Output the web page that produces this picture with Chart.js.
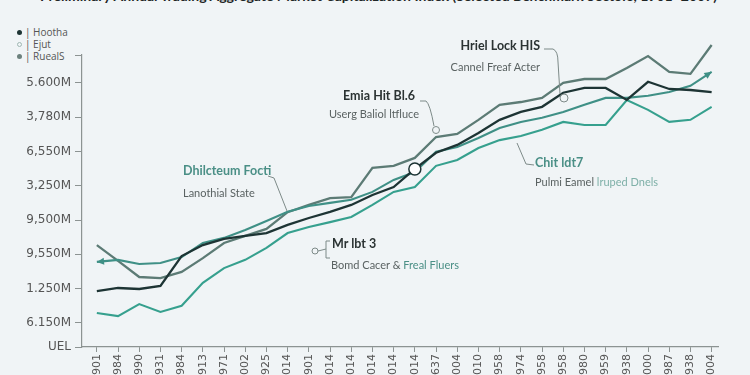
<!DOCTYPE html>
<html lang="en">
<head>
<meta charset="UTF-8">
<title>Market trend lines</title>
<script src="https://cdn.jsdelivr.net/npm/chart.js"></script>
<style>
  html, body { margin: 0; padding: 0; background: #f0f4f6; overflow: hidden; }
  body { width: 750px; height: 375px; position: relative; font-family: 'Lato', sans-serif; }
  #wrap { position: absolute; left: 0; top: 0; width: 750px; height: 400px; }
  .t { position: absolute; white-space: nowrap; line-height: 1; }
  .head { font-weight: bold; font-size: 12.5px; color: #2b3333; }
  .sub { font-size: 11px; color: #5a6262; }
  .teal { color: #4a8f86; }
  #title { position: absolute; left: 40px; width: 620px; top: -13px; text-align: center; font: bold 14px 'Lato', sans-serif; color: #1e2626; white-space: nowrap; }
  .lg { position: absolute; left: 17px; font: 10px 'Open Sans', sans-serif; color: #555; line-height: 1; }
  .lg i { display: inline-block; width: 5px; height: 5px; border-radius: 50%; margin-right: 3px; vertical-align: 1px; }
</style>
</head>
<body>
<div id="title">Preliminary Annual Trading Aggregate Market Capitalization Index (Selected Benchmark Sectors, 1901–2007)</div>

<div class="lg" style="top:27px"><i style="background:#1d3434"></i>| Hootha</div>
<div class="lg" style="top:39px"><i style="background:#f0f4f6;border:1px solid #9fb7b2;width:3px;height:3px"></i>| Ejut</div>
<div class="lg" style="top:51px"><i style="background:#6c817d"></i>| RuealS</div>

<div id="wrap"><canvas id="chart" width="750" height="400"></canvas></div>

<div class="t head" style="right:210px;top:40px">Hriel Lock HIS</div>
<div class="t sub" style="right:210px;top:61px">Cannel Freaf Acter</div>

<div class="t head" style="right:335px;top:90px">Emia Hit Bl.6</div>
<div class="t sub" style="right:331px;top:108px">Userg Baliol ltfluce</div>

<div class="t head teal" style="left:183px;top:165px">Dhilcteum Focti</div>
<div class="t sub" style="left:183px;top:187px">Lanothial State</div>

<div class="t head" style="left:332px;top:238px">Mr lbt 3</div>
<div class="t sub" style="left:331px;top:259px">Bomd Cacer &amp; <span class="teal">Freal Fluers</span></div>

<div class="t head teal" style="left:535px;top:157px">Chit ldt7</div>
<div class="t sub" style="left:535px;top:176px">Pulmi Eamel <span style="color:#7fb0a8">lruped Dnels</span></div>

<script>
  // categories along the bottom axis
  const categories = ['1901','1984','1990','1931','1984','1913','1971','2002','1925','2014',
                      '1901','2014','2014','2014','2014','2014','2637','2004','2010','1958',
                      '1974','1958','1958','1980','1959','1938','2000','1987','1938','2004'];

  // series values
  const hootha = [1.63,1.72,1.69,1.78,2.65,2.97,3.15,3.24,3.32,3.56,3.76,3.94,4.14,4.43,4.66,
                  5.19,5.66,5.89,6.24,6.62,6.85,7.00,7.41,7.55,7.55,7.20,7.73,7.52,7.49,7.43];
  const ejut = [2.48,2.54,2.42,2.45,2.62,3.03,3.18,3.41,3.67,3.94,4.11,4.20,4.29,4.52,4.87,
                5.10,5.69,5.83,6.09,6.38,6.56,6.68,6.85,7.06,7.26,7.26,7.32,7.43,7.61,8.02];
  const rueals = [2.97,2.51,2.04,2.01,2.19,2.59,3.03,3.24,3.44,3.93,4.14,4.34,4.37,5.22,5.28,
                  5.51,6.12,6.21,6.62,7.06,7.14,7.26,7.70,7.81,7.81,8.13,8.48,8.02,7.96,8.80];
  const freal = [0.99,0.90,1.25,1.02,1.20,1.87,2.30,2.54,2.89,3.32,3.50,3.64,3.79,4.14,4.52,
                 4.66,5.28,5.45,5.80,6.03,6.15,6.33,6.56,6.47,6.47,7.20,6.91,6.56,6.62,7.00];

  // y axis tick positions and their printed labels
  const yTickValues = [0, 0.7, 1.7, 2.7, 3.7, 4.7, 5.7, 6.7, 7.7, 8.51];
  const yTickLabels = ['UEL','6.150M','1.250M','9,550M','9,500M','3,250M','6,550M','3,780M','5.600M',''];

  const toPoints = arr => arr.map((v, i) => ({ x: i, y: v }));

  // leader lines, arrowheads on the Ejut line
  const decorations = {
    id: 'decorations',
    afterDatasetsDraw(chart) {
      const ctx = chart.ctx;
      ctx.save();
      ctx.strokeStyle = '#7d8a88';
      ctx.lineWidth = 1;
      ctx.beginPath();
      ctx.moveTo(544, 49); ctx.lineTo(553, 49); ctx.quadraticCurveTo(558, 51, 558, 62); ctx.lineTo(560, 94);
      ctx.moveTo(420, 101); ctx.lineTo(426, 101); ctx.quadraticCurveTo(430, 104, 434, 126);
      ctx.moveTo(268, 176); ctx.lineTo(274, 178); ctx.lineTo(287, 211);
      ctx.moveTo(330, 241); ctx.lineTo(326, 241); ctx.lineTo(326, 258); ctx.lineTo(330, 258);
      ctx.moveTo(326, 249); ctx.lineTo(318, 251);
      ctx.moveTo(534, 165); ctx.lineTo(526, 164); ctx.lineTo(517, 143);
      ctx.stroke();
      ctx.beginPath(); ctx.arc(564, 98, 4, 0, Math.PI * 2); ctx.stroke();
      ctx.beginPath(); ctx.arc(436, 130, 3.5, 0, Math.PI * 2); ctx.stroke();
      ctx.beginPath(); ctx.arc(315, 251, 3, 0, Math.PI * 2); ctx.stroke();

      const pts = chart.getDatasetMeta(1).data;
      const arrow = (a, b) => {
        const ang = Math.atan2(b.y - a.y, b.x - a.x);
        ctx.fillStyle = '#3f9086';
        ctx.beginPath();
        ctx.moveTo(b.x, b.y);
        ctx.lineTo(b.x - 8 * Math.cos(ang - 0.45), b.y - 8 * Math.sin(ang - 0.45));
        ctx.lineTo(b.x - 8 * Math.cos(ang + 0.45), b.y - 8 * Math.sin(ang + 0.45));
        ctx.closePath();
        ctx.fill();
      };
      arrow(pts[1], pts[0]);
      arrow(pts[pts.length - 2], pts[pts.length - 1]);
      ctx.restore();
    }
  };

  new Chart(document.getElementById('chart'), {
    type: 'line',
    data: {
      datasets: [
        { label: 'Hootha', data: toPoints(hootha), borderColor: '#1d3434', borderWidth: 2.3,
          pointRadius: c => c.dataIndex === 15 ? 6 : 0, pointBackgroundColor: '#ffffff',
          pointBorderColor: '#1d3434', pointBorderWidth: 1.5, clip: false },
        { label: 'Ejut', data: toPoints(ejut), borderColor: '#3f9086', borderWidth: 2.1, pointRadius: 0, clip: false },
        { label: 'RuealS', data: toPoints(rueals), borderColor: '#5c7b75', borderWidth: 2.3, pointRadius: 0, clip: false },
        { label: 'Freal', data: toPoints(freal), borderColor: '#36a08e', borderWidth: 2.1, pointRadius: 0, clip: false }
      ]
    },
    options: {
      responsive: false,
      animation: false,
      layout: { padding: { top: 55, right: 32, left: 0, bottom: 0 } },
      plugins: { legend: { display: false }, tooltip: { enabled: false } },
      elements: { line: { tension: 0 } },
      scales: {
        x: {
          type: 'linear', min: -0.7, max: 29.3,
          afterBuildTicks: s => { s.ticks = categories.map((c, i) => ({ value: i })); },
          afterFit: s => { s.height = 53; },
          grid: { drawOnChartArea: false, tickLength: 5, color: '#8c9392' },
          border: { color: '#8c9392', width: 1.2 },
          ticks: { autoSkip: false, minRotation: 90, maxRotation: 90, padding: 2, color: '#555',
                   font: { family: 'DejaVu Sans', size: 11 },
                   callback: v => categories[Math.round(v)] }
        },
        y: {
          min: 0, max: 8.51,
          afterBuildTicks: s => { s.ticks = yTickValues.map(v => ({ value: v })); },
          afterFit: s => { s.width = 82; },
          grid: { drawOnChartArea: false, tickLength: 7, color: '#8c9392' },
          border: { color: '#8c9392', width: 1.2 },
          ticks: { padding: 4, color: '#555', font: { family: 'DejaVu Sans', size: 12 },
                   callback: (v, i) => yTickLabels[i] }
        }
      }
    },
    plugins: [decorations]
  });
</script>
</body>
</html>
